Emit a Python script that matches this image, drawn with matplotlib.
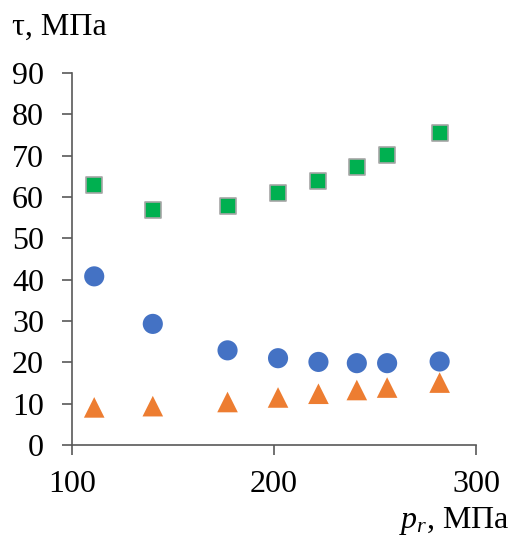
import matplotlib
matplotlib.use("Agg")
import matplotlib.pyplot as plt

plt.rcParams['font.family'] = ['Liberation Serif', 'DejaVu Serif']
plt.rcParams['mathtext.fontset'] = 'custom'
plt.rcParams['mathtext.rm'] = 'Liberation Serif'
plt.rcParams['mathtext.it'] = 'Liberation Serif:italic'

pr = [111, 140, 177, 202, 222, 241, 256, 282]
tau_square = [62.8, 56.8, 57.9, 60.9, 63.9, 67.2, 70.2, 75.5]
tau_circle = [40.8, 29.3, 22.9, 21.0, 20.1, 19.8, 19.8, 20.2]
tau_triangle = [9.1, 9.4, 10.4, 11.5, 12.4, 13.3, 13.9, 15.1]
xticks = [100, 200, 300]
yticks = [0, 10, 20, 30, 40, 50, 60, 70, 80, 90]

W, H = 516, 538
fig = plt.figure(figsize=(W / 100, H / 100), dpi=100)
ax = fig.add_axes([72 / W, (H - 445) / H, (476 - 72) / W, (445 - 73) / H])

ax.scatter(pr, tau_square, marker='s', s=140, color='#00B050', edgecolors='#A6A6A6', linewidths=1.2, zorder=3)
ax.scatter(pr, tau_circle, marker='o', s=210, color='#4472C4', edgecolors='none', zorder=3)
ax.scatter(pr, tau_triangle, marker='^', s=220, color='#ED7D31', edgecolors='none', zorder=3)

ax.set_xlim(100, 300)
ax.set_ylim(0, 90)
ax.set_xticks(xticks)
ax.set_yticks(yticks)
for s in ['top', 'right']:
    ax.spines[s].set_visible(False)
for s in ['left', 'bottom']:
    ax.spines[s].set_color('#595959')
    ax.spines[s].set_linewidth(1.2)
ax.tick_params(axis='both', direction='out', length=7.2, width=1.2, color='#595959', labelsize=23, labelcolor='black')
ax.tick_params(axis='y', pad=13)
ax.tick_params(axis='x', pad=11)

fig.text(12 / W, 1 - 27 / H, 'τ, МПа', fontsize=23, ha='left', va='center')
fig.text(510 / W, 1 - 528 / H, '$p_r$, МПа', fontsize=23, ha='right', va='baseline')

fig.savefig('out.png', dpi=100)
